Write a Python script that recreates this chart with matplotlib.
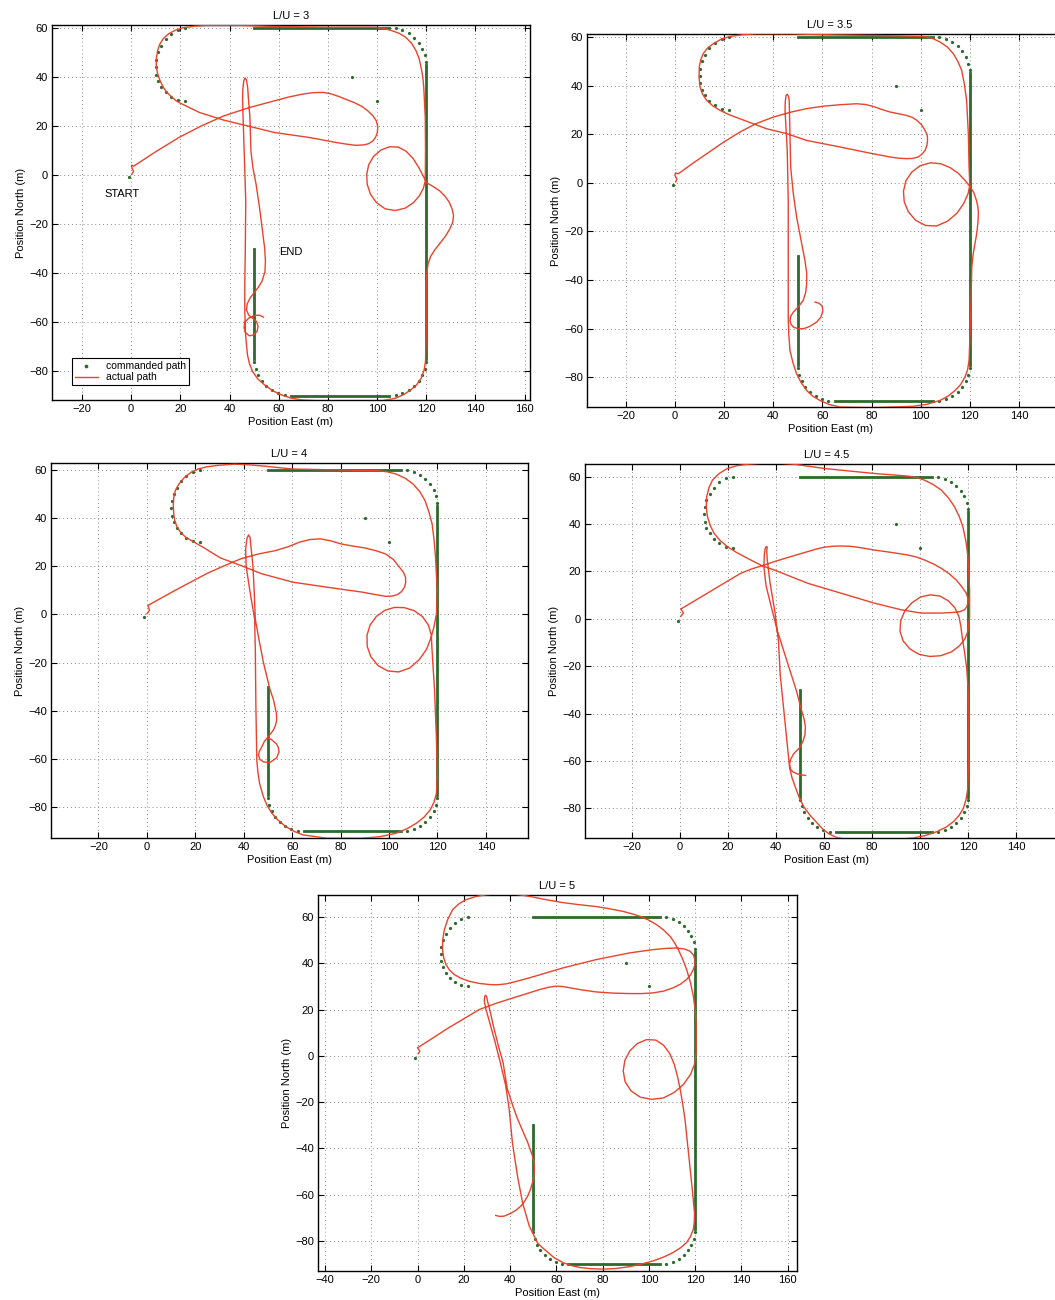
import numpy as np
import matplotlib
matplotlib.use("Agg")
import matplotlib.pyplot as plt

plt.rcParams['font.family'] = ['Liberation Sans', 'DejaVu Sans']

# commanded path (same in every run)
cmd_lines_x = [[50, 105], [120, 120], [105, 65], [50, 50]]
cmd_lines_y = [[60, 60], [45, -75], [-90, -90], [-75, -30]]
cmd_dots_x = [107.6, 110.3, 112.8, 115.0, 116.9, 118.4, 119.4, 119.9,
              107.6, 110.3, 112.8, 115.0, 116.9, 118.4, 119.4, 119.9,
              62.4, 59.7, 57.2, 55.0, 53.1, 51.6, 50.6, 50.1,
              22.0, 19.0, 16.3, 14.0, 12.3, 11.0, 10.2, 10.0, 10.2, 11.0, 12.3, 14.0, 16.3, 19.0, 22.0,
              90, 100, -1]
cmd_dots_y = [59.8, 59.0, 57.8, 56.1, 54.0, 51.6, 49.0, 46.3,
              -89.8, -89.0, -87.8, -86.1, -84.0, -81.6, -79.0, -76.3,
              -89.8, -89.0, -87.8, -86.1, -84.0, -81.6, -79.0, -76.3,
              60.0, 59.3, 57.6, 55.3, 52.7, 50.0, 47.0, 44.0, 41.0, 38.3, 36.0, 33.8, 31.8, 30.4, 30.0,
              40, 30, -1]

# actual path, L/U = 3  (east, north)
act_3 = [
    (0.2, 0.2), (1.0, 1.5), (0.3, 2.8), (0.2, 4.0), (1.0, 3.6),
    (10, 9.5), (19.4, 15.3), (28.5, 20), (37.6, 24.1), (48, 27.5), (58.5, 30.3), (64, 31.8), (69.7, 33),
    (74, 33.6), (78, 33.7), (81, 33.2), (83.7, 32.3), (87.5, 30.8), (90.6, 29.6), (93.8, 28), (96.2, 26.2),
    (98.3, 24.2), (99.7, 22.1), (100.3, 19.7), (100.1, 17.3), (99.4, 15.4), (98.3, 13.9), (96.6, 12.8),
    (94.8, 12.3), (91.3, 12.1), (87.5, 12.6), (83.7, 13.2), (72.5, 15.3), (58.5, 17.3), (44.6, 20.7),
    (37.6, 22.4), (27.8, 25.5), (20.8, 28.9), (18.4, 30.2), (16.6, 31.7), (14.6, 33.6), (13.1, 35.7),
    (11.7, 38.6), (10.6, 41.9), (10.2, 45), (10.3, 48), (10.8, 51), (11.7, 53.5), (13.2, 55.8),
    (15.2, 57.6), (17.8, 59), (20.8, 60), (25.5, 60.7), (30.6, 61), (44.6, 61), (58.5, 60.6), (79.5, 60.3),
    (99, 60.3), (102.8, 59.8), (106, 58.9), (109, 57.8), (111.6, 56.2), (114, 53.8), (115.8, 50.8),
    (117.1, 47.5), (117.9, 43.9), (118.6, 40), (119, 35.7), (119.6, 23.5), (119.7, 9.8), (119.6, -2.5),
    (118.8, -5.5), (117.2, -8.5), (114.8, -11.3), (111.5, -13.5), (107.4, -14.5), (103.3, -13.8),
    (99.8, -11.3), (97.3, -7.8), (96, -3.8), (95.8, 0.3), (96.6, 4.2), (98.6, 7.6), (101.6, 10.2),
    (105, 11.5), (108.6, 11.4), (111.8, 9.7), (114.6, 6.8), (117, 3.0), (118.8, -0.5), (120.2, -3.2),
    (122.8, -4.7), (125.5, -6.5), (127.5, -8.5), (129.3, -11), (130.5, -13.8), (131.1, -16.5),
    (130.8, -19.2), (129.6, -22), (127.8, -25), (125.6, -27.8), (123.5, -30.5), (121.8, -33.2),
    (120.8, -36), (120.3, -39.5), (120, -45), (120, -51.6), (120, -65.2), (119.7, -76.1), (119.1, -79.8),
    (117.9, -83), (116.1, -85.6), (113.7, -87.7), (110.8, -89.6), (107.4, -91.1), (102.5, -92),
    (97.6, -92.5), (83.7, -92.5), (69.7, -91.8), (65.3, -91.1), (61.3, -89.8), (57.5, -88), (54.3, -85.7),
    (51.5, -83.2), (49.4, -80.2), (48.1, -77), (47.3, -73.4), (46.5, -65), (46.2, -55), (46.2, -45),
    (46.4, -31.2), (46.6, -10.6), (46.1, 5), (45.7, 16.6), (45.3, 30.3), (45.4, 35), (45.8, 38.3),
    (46.3, 39.6), (46.9, 38.8), (47.4, 35.5), (47.7, 31), (48.3, 23.5), (48.7, 9.8), (49.5, 3),
    (50.8, -3.8), (52.3, -14), (53.6, -24.3), (54.3, -30), (54.6, -35.2), (54.4, -39.5), (53.2, -43.4),
    (51.8, -45.7), (50.2, -47.8), (48.5, -50), (47.2, -52.5), (46.9, -55), (47.8, -57.2), (49.5, -58.5),
    (51, -59.8), (51.6, -61.8), (51.2, -63.8), (49.8, -65.3), (48, -65.6), (46.5, -64.3), (45.9, -62.2),
    (46.3, -60), (47.8, -58.4), (50.2, -57.3), (52.2, -57.2), (53.8, -58.0)]

# actual path, L/U = 3.5
act_35 = [
    (0.3, 0.3), (0.8, 1.5), (0, 3), (0.2, 4), (1.4, 3.7),
    (7, 7.8), (12.9, 11.9), (19.5, 16.5), (26.5, 20.9), (33, 24.3), (40, 27), (47, 29), (53.6, 30.5),
    (60.5, 31.5), (67.2, 32.1), (73.9, 32.5), (77.5, 32.2), (80.7, 31.4), (84, 30.2), (87.5, 29.1),
    (91, 28.4), (94.3, 27.7), (96.6, 26.9), (98.4, 25.7), (100.4, 23.8), (101.8, 21.5), (102.7, 19.5),
    (102.8, 17.4), (102.5, 15.2), (101.8, 13.3), (100.6, 11.8), (99, 10.6), (96.8, 10), (94.3, 9.9),
    (91, 10.1), (87.5, 10.6), (80.7, 11.9), (67.2, 14.7), (53.6, 17.4), (45.5, 20.2), (37.3, 22.2),
    (26.5, 26.3), (22, 28), (18.3, 29.8), (15.3, 31.7), (12.9, 33.9), (11.2, 36.5), (10.2, 39.4),
    (9.8, 43.5), (9.9, 47.6), (10.5, 50.6), (11.5, 53.1), (13.2, 55.4), (15.6, 57.2), (18.7, 59),
    (22.4, 60.2), (27.5, 60.9), (33.2, 61.3), (46.8, 61.3), (60.4, 60.9), (80.7, 60.6), (101.1, 60.2),
    (104.8, 59.4), (107.9, 57.9), (110.9, 55.8), (113.3, 53.1), (115.2, 49.8), (116.7, 46.2),
    (117.8, 40.5), (118.7, 33.9), (119.4, 20.2), (119.7, 6.4), (120, -1.1),
    (119.3, -4.5), (117.5, -8.6), (114.8, -12.5), (111, -15.8), (106.5, -17.8), (102, -17.6), (98, -15.5),
    (95, -12), (93.3, -7.8), (93, -3.5), (94, 0.8), (96.4, 4.4), (99.8, 7), (104, 8.2), (108.2, 7.8),
    (112, 6.2), (115.4, 3.8), (118.2, 0.8), (120.2, -1.8), (121.6, -4), (122.7, -7.3), (123.3, -10),
    (123.5, -12.8), (123.3, -16.5), (122.8, -21), (121.4, -29.2), (120.8, -34.7), (120.5, -48.4),
    (120.1, -62.1), (119.7, -73.1), (119.1, -77), (118, -80), (116.3, -83), (114, -85.5), (111.2, -87.8),
    (107.9, -89.6), (102.5, -91.2), (97, -92), (80.7, -92.6), (67.2, -92.3), (62.8, -91.3), (59, -89.6),
    (56, -87.8), (53.6, -85.5), (51.3, -82.2), (49.5, -78.6), (48, -74), (46.8, -69), (46.3, -62),
    (46.1, -55.3), (46.1, -34.7), (46.1, -7.3), (45.7, 13.3), (44.8, 29.8), (44.9, 33.5), (45.2, 35.9),
    (45.7, 36.4), (46.2, 35.5), (46.5, 33.9), (46.8, 20.2), (47.1, 6.4), (48.1, -4), (49.5, -14.1),
    (51.3, -23.5), (52.9, -32), (53.6, -37), (53.6, -41.6), (53.2, -45.2), (52.2, -48.4), (50.3, -51),
    (48.2, -53.2), (47.1, -55), (46.8, -56.7), (47.2, -58.2), (48.2, -59.4), (50.1, -60.1), (52.2, -60.1),
    (54.8, -59.2), (57.7, -57.3), (59.4, -55.3), (60.1, -53.2), (60.1, -51.6), (59.7, -50.5),
    (58.6, -49.6), (57, -49.1)]

# actual path, L/U = 4
act_4 = [
    (0, 0.3), (1.1, 1.7), (0.4, 3.7),
    (5, 6.3), (10.4, 9.3), (17.5, 13.1), (24.6, 16.9), (31.7, 20.1), (38.8, 23.1), (46, 25.1),
    (53.1, 26.5), (58.3, 28.1), (63, 30), (67.3, 31.1), (71.6, 31.4), (75.8, 30.6), (80.1, 29.3),
    (85, 28.4), (90, 27.6), (94.5, 26.5), (98.6, 25.1), (101.8, 22.8), (104.3, 19.6), (105.9, 17.6),
    (106.8, 15.5), (106.9, 13.3), (106.4, 11.3), (105.2, 9.5), (103.6, 8.3), (101.3, 7.6), (98.6, 7.5),
    (94, 8.3), (88.6, 9.3), (74.4, 11.3), (60.2, 13.4), (47.4, 16.9), (38.8, 20.3), (30.3, 23.5),
    (23.2, 27.9), (16.1, 32), (14, 34), (12.5, 36.2), (11.5, 39), (11.1, 41.7), (10.9, 45.2), (11.1, 48.6),
    (11.8, 51.6), (13.2, 54.1), (15.4, 56.8), (18.2, 59), (21.2, 60.4), (24.6, 61.3), (30, 62), (36, 62.4),
    (41.5, 62.2), (47.4, 61.7), (60.2, 60.4), (81.5, 60), (95.7, 59.7), (99.5, 59.2), (103, 58.3),
    (106.8, 56.5), (110, 54.1), (112.8, 50.9), (114.9, 47.2), (116.5, 42.5), (117.8, 37.6), (118.6, 31),
    (119.2, 23.8), (119.9, 9.9), (119.6, 0.3), (118.5, -5.5),
    (117.3, -9.8), (115.5, -14.5), (112.5, -18.8), (108.5, -22.3), (104, -23.9), (99.5, -23.5),
    (95.5, -21.3), (92.5, -17.6), (91, -13.3), (90.9, -8.7), (92.2, -4.4), (94.8, -0.8), (98.3, 1.7),
    (102.2, 2.9), (106.3, 2.8), (110.3, 1.6), (113.8, -0.9), (116.3, -4.5), (117.5, -8.8), (117.7, -13.5),
    (118.1, -20), (118.8, -31.5), (119.6, -52.2), (119.9, -66), (119.6, -74.3), (118.6, -78), (117, -81.2),
    (114.5, -84.2), (111.4, -86.7), (107.5, -89), (103, -90.9), (96, -92.4), (88.6, -93), (74.4, -93),
    (64.4, -91.6), (60.7, -90.1), (57.3, -88.1), (54.2, -85.5), (51.6, -82.6), (49.6, -79.3), (48.1, -75.7),
    (46.6, -70.5), (45.9, -66), (45.4, -60.6), (45, -37), (44.8, -15.8), (44.5, -2), (42.5, 10), (41, 20),
    (40.8, 27), (41.3, 31.5), (42, 33), (42.6, 32), (43, 28), (43.8, 20), (44.3, 10), (44.8, -2.2),
    (46.5, -11.5), (48.2, -20.3), (50.9, -31.4), (52.3, -35.5), (52.9, -38.3), (53.5, -41.2), (53.6, -43.9),
    (53.1, -46.2), (52.2, -48.1), (51.1, -49.6), (49.9, -51.1), (48.5, -52.8), (47.5, -55), (46.4, -57),
    (46.1, -58.5), (46.7, -60.3), (48.2, -61.3), (50.9, -61.5), (53.6, -59.6), (54.6, -57.1),
    (54.3, -55.3), (53.6, -53.9), (51.3, -51.9), (49.9, -51.5)]

# actual path, L/U = 4.5
act_45 = [
    (0.3, 1), (1.4, 2.4), (0.3, 4.1),
    (5.8, 7.4), (11.4, 10.8), (18.3, 15), (25.3, 19.2), (30, 21.1), (34.3, 22.4), (39.2, 24.1), (46, 26.2),
    (53.1, 28.3), (56.7, 29.4), (60.1, 30.2), (63.5, 30.6), (67, 30.7), (70.5, 30.6), (74, 30.2),
    (80.9, 29), (88, 28), (94.9, 26.9), (98.6, 26), (101.8, 24.8), (105.4, 23.2), (108.8, 21.3),
    (112.2, 18.9), (115, 16.4), (117.3, 13.6), (119.2, 10.8), (119.9, 8.6), (119.9, 6.6), (119.4, 5),
    (118.5, 3.8), (116.6, 3), (114.3, 2.7), (108.8, 2.4), (100.4, 2.4), (92.1, 3.8), (80.9, 6.6), (67, 10.8),
    (53.1, 15), (39.2, 20.6), (34.3, 22.3), (28.1, 25.5), (23.5, 28), (19.7, 30.4), (16.6, 33.1),
    (14.2, 36), (12.5, 39.5), (11.4, 43.1), (10.9, 47.3), (11.1, 51.5), (12, 55.2), (13.5, 58.5),
    (16.3, 61.3), (19.7, 63.4), (23.8, 64.6), (28.1, 65.2), (33.6, 65.6), (39.2, 65.8), (47.6, 65.2),
    (60.1, 63.4), (80.9, 61.3), (94.9, 60.2), (98.5, 59.6), (101.8, 58.5), (105.5, 56.6), (108.8, 54.3),
    (111.8, 51), (114.3, 47.3), (116.3, 43.1), (117.8, 38.8), (119.1, 32.5), (119.9, 26.2), (120.6, 12.2),
    (120.6, 1), (119.9, -5.3),
    (118.6, -8.5), (116.3, -11.5), (113, -14), (108.5, -15.6), (104, -15.9), (99.5, -15), (95.7, -12.7),
    (92.9, -9.3), (91.6, -5.2), (91.9, -0.8), (93.6, 3.3), (96.6, 6.8), (100.2, 9.2), (104.2, 10.1),
    (108.2, 9.6), (111.7, 7.6), (114.5, 4.6), (116.2, 0.8), (117, -3.5), (117.6, -8.5), (118.5, -14),
    (119.4, -21), (120, -30), (120.2, -45), (120.2, -60), (119.8, -72), (119.1, -76.3), (118, -80),
    (116.2, -83), (114, -85.5), (110.8, -87.9), (107, -89.8), (102, -91.5), (97, -92.5), (85, -93.5),
    (75, -93.5), (68.5, -93), (65, -92.2), (62.1, -90.8), (59.5, -88.8), (57.2, -86.3), (54.2, -83),
    (51.5, -79.3), (49.6, -75.3), (48, -71), (46.6, -67), (45.6, -62.6), (44.5, -51.4), (43.1, -37.5),
    (41.7, -23.5), (41, -9.6), (39.5, 3), (37.5, 15), (36.3, 25), (36.1, 28.5), (36.3, 30.2), (35.9, 30.5),
    (35.4, 29.5), (35.1, 27), (34.9, 22), (35.8, 14), (38, 5), (40.5, -5), (43, -13), (46, -22.5),
    (48.5, -30.5), (50.3, -37.5), (51.7, -42.5), (52.2, -45.5), (52, -49), (51.3, -51.4), (50, -54.2),
    (48.5, -55.7), (47.3, -57), (46.2, -59), (45.6, -61.2), (45.9, -63.3), (47, -64.6), (48.7, -65.4),
    (50.5, -65.9), (52.3, -66.1)]

# actual path, L/U = 5
act_5 = [
    (0.3, 0.9), (1, 2), (0, 3.5), (0.7, 3.9),
    (6.5, 7.6), (12.3, 11.4), (19.5, 15.7), (26.7, 20), (34, 22.7), (41.2, 25), (47, 26.8), (52.7, 28.6),
    (56.5, 29.6), (60, 30.1), (63, 29.9), (65.8, 29.4), (71.5, 28.4), (77.3, 27.6), (84.5, 27.1),
    (91.8, 26.9), (97, 26.9), (101.9, 27.2), (106.5, 28), (110.5, 29.4), (113.7, 31), (116.3, 33),
    (118, 35), (119.2, 37.3), (119.9, 39.5), (119.9, 41.6), (119.2, 43.6), (117.8, 45.2), (115.2, 46.2),
    (112, 46.6), (107, 46.4), (101.9, 45.9), (91.8, 44.5), (77.3, 41.6), (62.9, 38), (48.4, 33.7),
    (43.3, 32.3), (38.3, 31.1), (34.6, 30.7), (31.1, 30.8), (26.6, 31.3), (22.4, 32.2), (18.8, 33.5),
    (15.9, 35.1), (13.8, 37.1), (12.3, 39.4), (11.3, 42.5), (10.8, 45.9), (10.9, 50.2), (11.6, 54.5),
    (13.1, 59), (15.2, 63.2), (17.9, 65.7), (21, 67.5), (25.1, 68.8), (29.6, 69.6), (34, 70), (38.3, 70.1),
    (43.4, 69.7), (48.4, 68.9), (55.5, 67.5), (62.9, 66.2), (70, 65.3), (77.3, 64.5), (83.3, 63.5),
    (88.9, 62.4), (92.6, 61.4), (96.1, 60.3), (99.8, 58.7), (103.3, 56.7), (106.4, 54.3), (109.1, 51.7),
    (111, 49), (112.7, 45.9), (114.6, 41.8), (116.3, 37.3), (118, 31.5), (119.2, 25.8), (120, 20),
    (120.4, 14.2), (120.4, 1.3),
    (119.8, -3.5), (118, -8), (115, -12.3), (111, -15.8), (106.3, -18.2), (101.2, -18.8), (96.3, -17.9),
    (92.3, -15.2), (89.7, -11.2), (88.9, -6.5), (89.6, -2), (91.8, 2.2), (95, 5.3), (99, 7), (103, 6.8),
    (106.3, 4.6), (109, 1), (111, -3.8), (112.5, -9.5), (113.8, -16), (114.8, -22), (115.6, -27.5),
    (117.1, -41.9), (118.6, -56.3), (119.7, -67.8), (119.6, -72), (119.2, -75), (118, -78), (116.3, -80.7),
    (113.6, -83), (110.5, -85), (106.3, -87), (101.9, -88.6), (96.8, -90), (91.8, -91.1), (86, -91.9),
    (80.2, -92.2), (75, -92), (70.1, -91.5), (66.3, -90.6), (62.9, -89.4), (59, -87.2), (55.6, -84.3),
    (53.6, -82.6), (51.9, -80.9), (48.3, -73.6), (45.4, -63.5), (43.2, -51.9), (41, -37.4), (39.6, -22.9),
    (38.1, -12.8), (35.8, -3), (33.5, 6), (31.3, 14), (29.6, 20), (28.9, 23.5), (29, 25.5), (29.4, 26.2),
    (29.9, 25.5), (30.4, 23), (31.2, 20), (33, 12), (35.3, 3), (37, -3), (38.8, -14.2), (41, -21),
    (43.2, -27.2), (45.5, -32.5), (47.6, -37.4), (49.7, -43.2), (50.3, -46), (50.5, -49), (50.3, -52),
    (49.7, -54.8), (48.8, -57.8), (47.6, -60.6), (46.2, -63), (44.7, -64.9), (42.6, -66.7), (40.3, -68.1),
    (37.4, -69.3), (35.5, -69.4), (33.8, -69)]

titles = ['L/U = 3', 'L/U = 3.5', 'L/U = 4', 'L/U = 4.5', 'L/U = 5']
paths = [act_3, act_35, act_4, act_45, act_5]
y_ticks = [-80, -60, -40, -20, 0, 20, 40, 60]

FW, FH = 1055, 1300
# axes box in pixels: left, top, right, bottom (runs 3.5 and 4.5 are cut at the page edge)
boxes = [(52, 25, 530, 400), (587, 34, 1073, 407), (51, 463, 528, 838), (585, 464, 1069, 838),
         (318, 895, 797, 1271)]
xlims = [(-32.2, 162.2), (-35.8, 162), (-39.6, 157.4), (-39.6, 162), (-43, 164)]
ylims = [(-91.8, 61.2), (-92.3, 61.2), (-92.9, 62.9), (-92.5, 65.3), (-93, 69.5)]
x_ticks = [range(-20, 161, 20), range(-20, 141, 20), range(-20, 141, 20), range(-20, 141, 20),
           range(-40, 161, 20)]

RED = '#e8432c'
GREEN = '#2b6a2b'

fig = plt.figure(figsize=(FW / 100, FH / 100), dpi=100)

for i in range(5):
    l, t, r, b = boxes[i]
    ax = fig.add_axes([l / FW, 1 - b / FH, (r - l) / FW, (b - t) / FH])
    # commanded path
    for lx, ly in zip(cmd_lines_x, cmd_lines_y):
        ax.plot(lx, ly, color=GREEN, lw=2.0, zorder=2)
    h1, = ax.plot(cmd_dots_x, cmd_dots_y, '.', color=GREEN, ms=2.6, zorder=2, label='commanded path')
    # actual path
    px, py = np.array(paths[i]).T
    h2, = ax.plot(px, py, color=RED, lw=1.0, zorder=3, label='actual path')

    ax.set_xlim(*xlims[i])
    ax.set_ylim(*ylims[i])
    ax.set_xticks(list(x_ticks[i]))
    ax.set_yticks(y_ticks)
    ax.grid(True, color='#8a8a8a', lw=0.7, linestyle=(0, (1, 3)))
    ax.tick_params(direction='in', top=True, right=True, length=4, labelsize=8, pad=3)
    for s in ax.spines.values():
        s.set_linewidth(1.0)
    ax.set_title(titles[i], fontsize=8, pad=4)
    ax.set_xlabel('Position East (m)', fontsize=8, labelpad=2)
    ax.set_ylabel('Position North (m)', fontsize=8, labelpad=2)

    if i == 0:
        ax.text(-11, -7.8, 'START', fontsize=8, va='center', ha='left')
        ax.text(60.3, -31.4, 'END', fontsize=8, va='center', ha='left')
        leg = ax.legend(handles=[h1, h2], loc='lower left', bbox_to_anchor=(0.03, 0.025),
                        fontsize=7.5, fancybox=False, edgecolor='black', framealpha=1,
                        handlelength=2.2, borderpad=0.3, labelspacing=0.1, markerscale=1.3)
        leg.get_frame().set_linewidth(0.8)

fig.savefig('out.png', dpi=100)
